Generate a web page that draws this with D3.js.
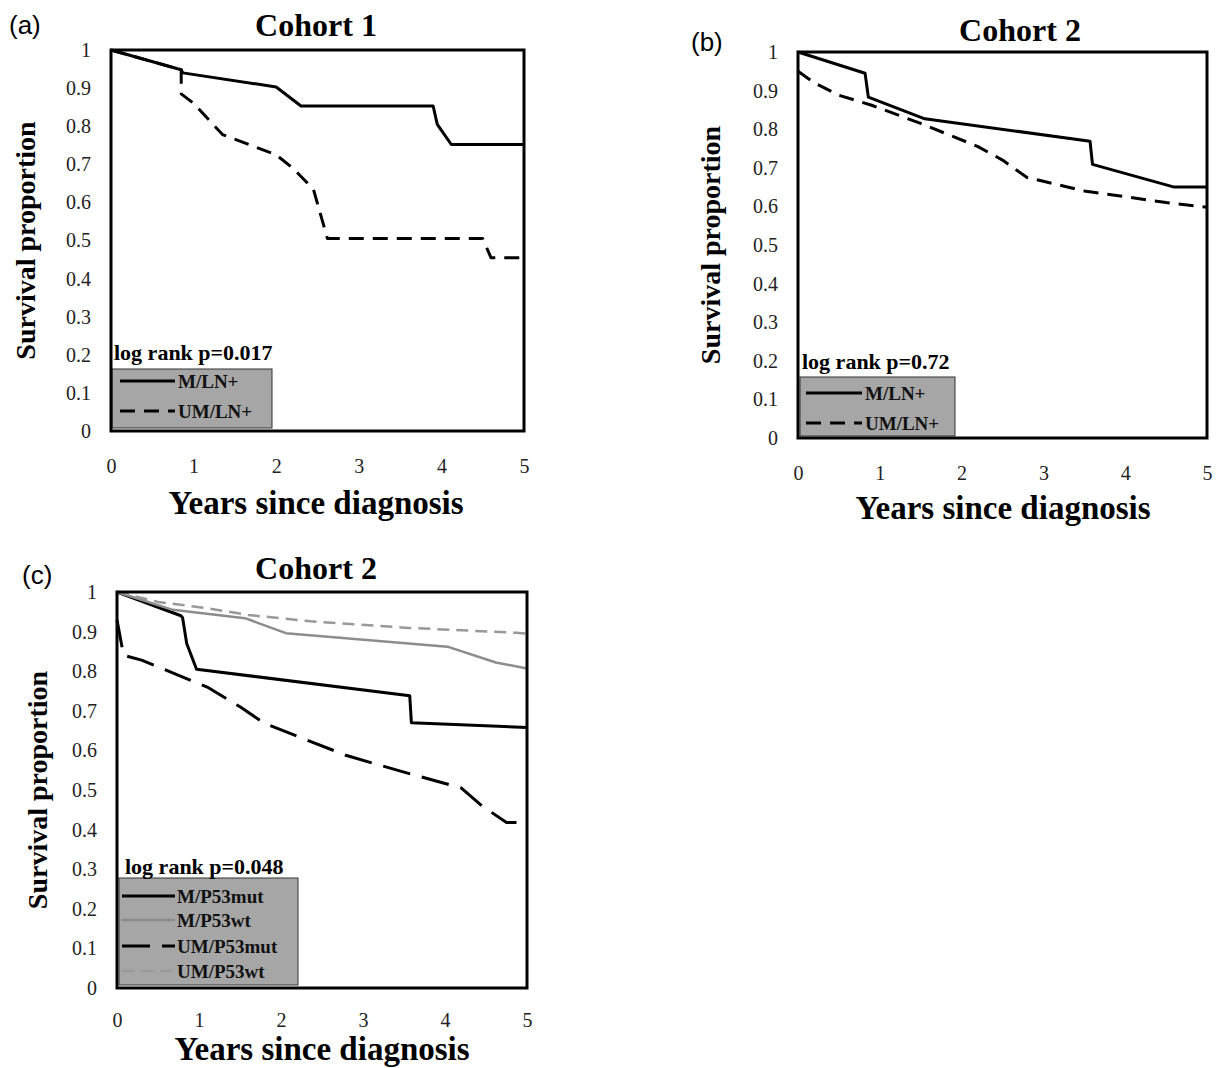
<!DOCTYPE html>
<html>
<head>
<meta charset="utf-8">
<script src="https://cdn.jsdelivr.net/npm/d3@7"></script>
<style>
  body { margin: 0; background: #fff; }
  svg { display: block; }
</style>
</head>
<body>
<div id="chart"></div>
<script>
// ---- data (years since diagnosis, survival proportion) ----
const xTicks = [0, 1, 2, 3, 4, 5];
const yTicks = [0, 0.1, 0.2, 0.3, 0.4, 0.5, 0.6, 0.7, 0.8, 0.9, 1];

// (a) Cohort 1
const c1_M_LN = [[0, 1], [0.85, 0.948], [0.87, 0.94], [2.0, 0.903], [2.3, 0.853], [3.9, 0.853],
                 [3.95, 0.805], [4.12, 0.752], [5, 0.752]];
const c1_UM_LN = [[0, 1], [0.85, 0.948], [0.85, 0.885], [1.0, 0.86], [1.35, 0.778], [2.0, 0.725],
                  [2.2, 0.69], [2.45, 0.635], [2.62, 0.505], [4.5, 0.505], [4.6, 0.455], [5, 0.455]];

// (b) Cohort 2
const c2_M_LN = [[0, 1], [0.82, 0.945], [0.86, 0.883], [1.55, 0.827], [3.57, 0.769], [3.6, 0.709],
                 [4.6, 0.65], [5, 0.65]];
const c2_UM_LN = [[0, 0.95], [0.2, 0.92], [0.5, 0.888], [0.9, 0.862], [1.5, 0.815], [2.2, 0.755],
                  [2.5, 0.72], [2.8, 0.675], [3.0, 0.665], [3.5, 0.64], [4.0, 0.625], [4.5, 0.61], [5, 0.598]];

// (c) Cohort 2, P53
const c2_M_mut = [[0, 1], [0.78, 0.94], [0.8, 0.935], [0.85, 0.87], [0.97, 0.805], [3.57, 0.738],
                  [3.59, 0.67], [5, 0.658]];
const c2_M_wt = [[0, 1], [0.68, 0.955], [1.56, 0.934], [2.06, 0.896], [4.03, 0.862], [4.62, 0.822], [5, 0.807]];
const c2_UM_mut = [[0, 0.93], [0.08, 0.84], [0.3, 0.828], [1.1, 0.76], [1.5, 0.71], [1.8, 0.668],
                   [2.8, 0.587], [3.5, 0.545], [4.2, 0.505], [4.45, 0.46], [4.75, 0.418], [5, 0.418]];
const c2_UM_wt = [[0, 1], [0.5, 0.975], [1.1, 0.959], [1.6, 0.942], [2.36, 0.926], [3.5, 0.91], [4.87, 0.897], [5, 0.895]];

// ---- styles ----
const styles = {
  solid:     { color: "#000", width: 3, dash: null },
  dashed:    { color: "#000", width: 3, dash: "15,9" },
  longdash:  { color: "#000", width: 3, dash: "28,12" },
  graySolid: { color: "#8c8c8c", width: 2.5, dash: null },
  grayDash:  { color: "#999", width: 2.5, dash: "12,7" }
};

const panels = [
  {
    tag: "(a)", tagX: 9, tagY: 34, title: "Cohort 1", titleX: 316, titleY: 36,
    box: { left: 111, right: 524, top: 50, bottom: 431 },
    ylabX: 35, xlabX: 316, xlabY: 514, tickOff: 28,
    pText: "log rank p=0.017", pX: 114, pY: 360,
    legend: { x: 112, y: 369, w: 160, h: 59, lineX0: 120, lineX1: 175, textX: 178, rowY: [381, 411] },
    series: [
      { name: "M/LN+", data: c1_M_LN, style: "solid" },
      { name: "UM/LN+", data: c1_UM_LN, style: "dashed" }
    ]
  },
  {
    tag: "(b)", tagX: 691, tagY: 51, title: "Cohort 2", titleX: 1020, titleY: 41,
    box: { left: 798, right: 1207, top: 52, bottom: 438 },
    ylabX: 720, xlabX: 1003, xlabY: 519, tickOff: 28,
    pText: "log rank p=0.72", pX: 802, pY: 369,
    legend: { x: 800, y: 377, w: 155, h: 59, lineX0: 806, lineX1: 862, textX: 865, rowY: [393, 423] },
    series: [
      { name: "M/LN+", data: c2_M_LN, style: "solid" },
      { name: "UM/LN+", data: c2_UM_LN, style: "dashed" }
    ]
  },
  {
    tag: "(c)", tagX: 22, tagY: 584, title: "Cohort 2", titleX: 316, titleY: 579,
    box: { left: 117, right: 527, top: 592, bottom: 988 },
    ylabX: 47, xlabX: 322, xlabY: 1060, tickOff: 25,
    pText: "log rank p=0.048", pX: 125, pY: 874,
    legend: { x: 119, y: 878, w: 179, h: 107, lineX0: 122, lineX1: 175, textX: 177, rowY: [896, 920, 946, 971] },
    series: [
      { name: "M/P53mut", data: c2_M_mut, style: "solid" },
      { name: "M/P53wt", data: c2_M_wt, style: "graySolid" },
      { name: "UM/P53mut", data: c2_UM_mut, style: "longdash" },
      { name: "UM/P53wt", data: c2_UM_wt, style: "grayDash" }
    ]
  }
];

const svg = d3.select("#chart").append("svg")
  .attr("width", 1216)
  .attr("height", 1068);

const serif = "'Liberation Serif', 'Times New Roman', serif";

panels.forEach(p => {
  const b = p.box;
  const x = d3.scaleLinear([0, 5], [b.left, b.right]);
  const y = d3.scaleLinear([0, 1], [b.bottom, b.top]);
  const g = svg.append("g");

  // y axis labels (no tick marks)
  g.append("g")
   .attr("transform", `translate(${b.left},0)`)
   .call(d3.axisLeft(y).tickValues(yTicks).tickSize(0).tickPadding(20).tickFormat(d3.format("")))
   .call(a => a.select(".domain").remove())
   .call(a => a.selectAll("text")
               .style("font-family", serif)
               .style("font-size", "20px")
               .style("fill", "#222"));

  // x axis labels, sit well below the box
  g.append("g")
   .attr("transform", `translate(0,${b.bottom + p.tickOff})`)
   .call(d3.axisBottom(x).tickValues(xTicks).tickSize(0).tickPadding(0).tickFormat(d3.format("d")))
   .call(a => a.select(".domain").remove())
   .call(a => a.selectAll("text")
               .style("font-family", serif)
               .style("font-size", "20px")
               .style("fill", "#222"));

  // curves
  const line = d3.line().x(d => x(d[0])).y(d => y(d[1]));
  p.series.forEach(s => {
    const st = styles[s.style];
    g.append("path")
     .datum(s.data)
     .attr("d", line)
     .attr("fill", "none")
     .attr("stroke", st.color)
     .attr("stroke-width", st.width)
     .attr("stroke-dasharray", st.dash)
     .attr("stroke-linejoin", "round");
  });

  // legend box
  const L = p.legend;
  g.append("rect")
   .attr("x", L.x).attr("y", L.y)
   .attr("width", L.w).attr("height", L.h)
   .attr("fill", "#a6a6a6")
   .attr("stroke", "#333")
   .attr("stroke-width", 1);

  p.series.forEach((s, i) => {
    const st = styles[s.style];
    g.append("line")
     .attr("x1", L.lineX0).attr("x2", L.lineX1)
     .attr("y1", L.rowY[i]).attr("y2", L.rowY[i])
     .attr("stroke", st.color)
     .attr("stroke-width", st.width)
     .attr("stroke-dasharray", st.dash);
    g.append("text")
     .attr("x", L.textX).attr("y", L.rowY[i] + 7)
     .style("font-family", serif)
     .style("font-weight", "bold")
     .style("font-size", "19px")
     .style("fill", "#111")
     .text(s.name);
  });

  g.append("text")
   .attr("x", p.pX).attr("y", p.pY)
   .style("font-family", serif)
   .style("font-weight", "bold")
   .style("font-size", "22px")
   .text(p.pText);

  // plot frame
  g.append("rect")
   .attr("x", b.left).attr("y", b.top)
   .attr("width", b.right - b.left).attr("height", b.bottom - b.top)
   .attr("fill", "none")
   .attr("stroke", "#000")
   .attr("stroke-width", 3);

  // title
  g.append("text")
   .attr("x", p.titleX)
   .attr("y", p.titleY)
   .attr("text-anchor", "middle")
   .style("font-family", serif)
   .style("font-weight", "bold")
   .style("font-size", "32px")
   .text(p.title);

  // panel tag
  g.append("text")
   .attr("x", p.tagX).attr("y", p.tagY)
   .style("font-family", "'Liberation Sans', Arial, sans-serif")
   .style("font-size", "26px")
   .text(p.tag);

  // axis titles
  g.append("text")
   .attr("transform", `translate(${p.ylabX},${(b.top + b.bottom) / 2}) rotate(-90)`)
   .attr("text-anchor", "middle")
   .style("font-family", serif)
   .style("font-weight", "bold")
   .style("font-size", "28px")
   .text("Survival proportion");

  g.append("text")
   .attr("x", p.xlabX)
   .attr("y", p.xlabY)
   .attr("text-anchor", "middle")
   .style("font-family", serif)
   .style("font-weight", "bold")
   .style("font-size", "33px")
   .text("Years since diagnosis");
});
</script>
</body>
</html>
